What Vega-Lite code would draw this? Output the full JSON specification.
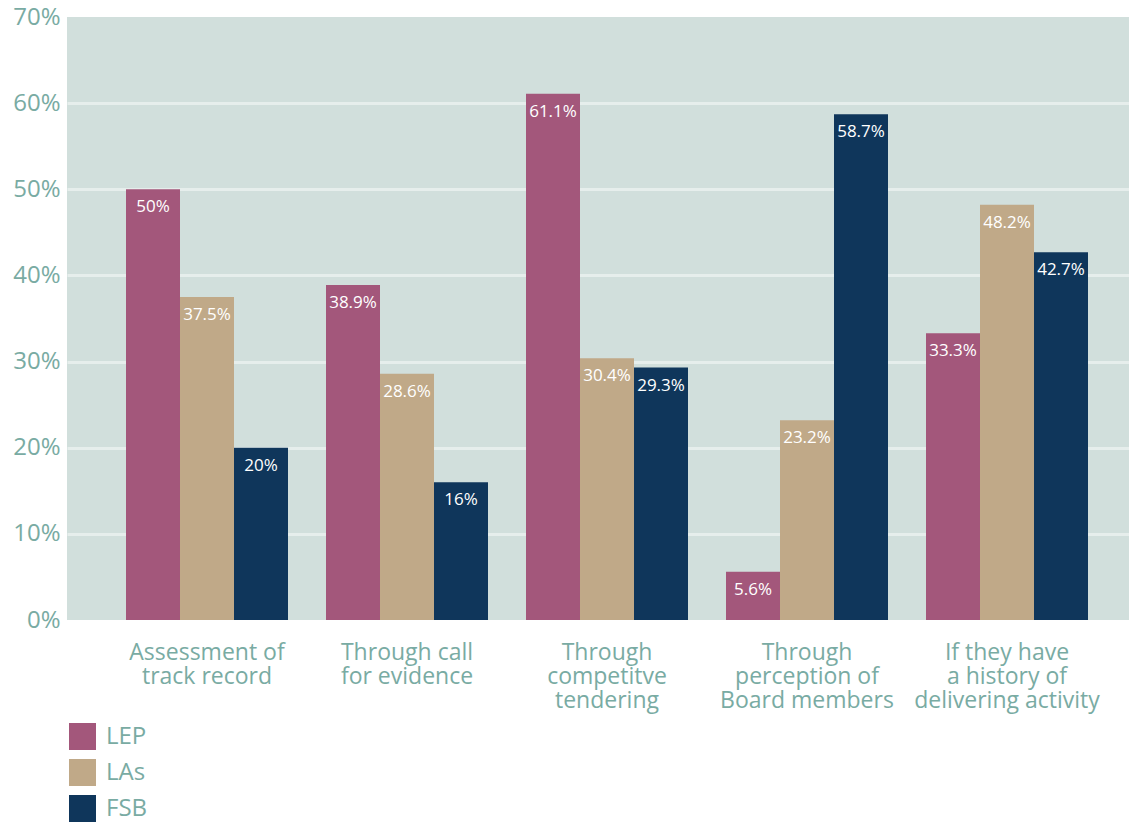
{
  "$schema": "https://vega.github.io/schema/vega-lite/v6.json",
  "width": 1062,
  "height": 603,
  "autosize": {"type": "none"},
  "padding": {"left": 67, "top": 17, "right": 0, "bottom": 204},
  "background": "white",
  "config": {
    "font": "Open Sans",
    "view": {"fill": "#d1dfdc", "stroke": null}
  },
  "data": {
    "values": [
      {"category": "Assessment of track record", "group": "LEP", "value": 0.5},
      {"category": "Assessment of track record", "group": "LAs", "value": 0.375},
      {"category": "Assessment of track record", "group": "FSB", "value": 0.2},
      {"category": "Through call for evidence", "group": "LEP", "value": 0.389},
      {"category": "Through call for evidence", "group": "LAs", "value": 0.286},
      {"category": "Through call for evidence", "group": "FSB", "value": 0.16},
      {"category": "Through competitve tendering", "group": "LEP", "value": 0.611},
      {"category": "Through competitve tendering", "group": "LAs", "value": 0.304},
      {"category": "Through competitve tendering", "group": "FSB", "value": 0.293},
      {"category": "Through perception of Board members", "group": "LEP", "value": 0.056},
      {"category": "Through perception of Board members", "group": "LAs", "value": 0.232},
      {"category": "Through perception of Board members", "group": "FSB", "value": 0.587},
      {"category": "If they have a history of delivering activity", "group": "LEP", "value": 0.333},
      {"category": "If they have a history of delivering activity", "group": "LAs", "value": 0.482},
      {"category": "If they have a history of delivering activity", "group": "FSB", "value": 0.427}
    ]
  },
  "encoding": {
    "x": {
      "field": "category",
      "type": "nominal",
      "sort": null,
      "scale": {"paddingInner": 0.19, "paddingOuter": 0.25, "align": 0.59},
      "axis": {
        "title": null,
        "labelAngle": 0,
        "ticks": false,
        "domain": false,
        "labelFontSize": 23,
        "labelColor": "#79aba3",
        "labelPadding": 21,
        "labelLineHeight": 24,
        "labelBaseline": "top",
        "labelLimit": 300,
        "labelOverlap": false,
        "labelExpr": "datum.value == 'Assessment of track record' ? ['Assessment of', 'track record'] : datum.value == 'Through call for evidence' ? ['Through call', 'for evidence'] : datum.value == 'Through competitve tendering' ? ['Through', 'competitve', 'tendering'] : datum.value == 'Through perception of Board members' ? ['Through', 'perception of', 'Board members'] : ['If they have', 'a history of', 'delivering activity']"
      }
    },
    "xOffset": {"field": "group", "type": "nominal", "sort": ["LEP", "LAs", "FSB"], "scale": {"paddingInner": 0, "paddingOuter": 0}},
    "y": {
      "field": "value",
      "type": "quantitative",
      "scale": {"domain": [0, 0.7], "nice": false},
      "axis": {
        "title": null,
        "format": ".0%",
        "values": [0, 0.1, 0.2, 0.3, 0.4, 0.5, 0.6, 0.7],
        "labelOverlap": false,
        "labelFlush": false,
        "ticks": false,
        "domain": false,
        "labelFontSize": 24,
        "labelColor": "#79aba3",
        "labelPadding": 7,
        "gridColor": "#e6eeec",
        "gridWidth": 3,
        "gridOpacity": {"condition": {"test": "datum.value == 0 || datum.value == 0.7", "value": 0}, "value": 1}
      }
    }
  },
  "layer": [
    {
      "mark": {"type": "bar"},
      "encoding": {
        "color": {
          "field": "group",
          "type": "nominal",
          "sort": ["LEP", "LAs", "FSB"],
          "scale": {"domain": ["LEP", "LAs", "FSB"], "range": ["#a3577b", "#c0a988", "#0f365b"]},
          "legend": {
            "title": null,
            "orient": "none",
            "legendX": 2,
            "legendY": 706,
            "symbolType": "square",
            "symbolSize": 729,
            "symbolStrokeWidth": 0,
            "symbolOpacity": 1,
            "labelFontSize": 24,
            "labelColor": "#79aba3",
            "labelOffset": 10,
            "rowPadding": 9
          }
        }
      }
    },
    {
      "mark": {"type": "text", "color": "white", "fontSize": 17, "baseline": "middle", "align": "center", "dy": 18},
      "encoding": {
        "text": {"field": "value", "type": "quantitative", "format": ".1~%"}
      }
    }
  ]
}
